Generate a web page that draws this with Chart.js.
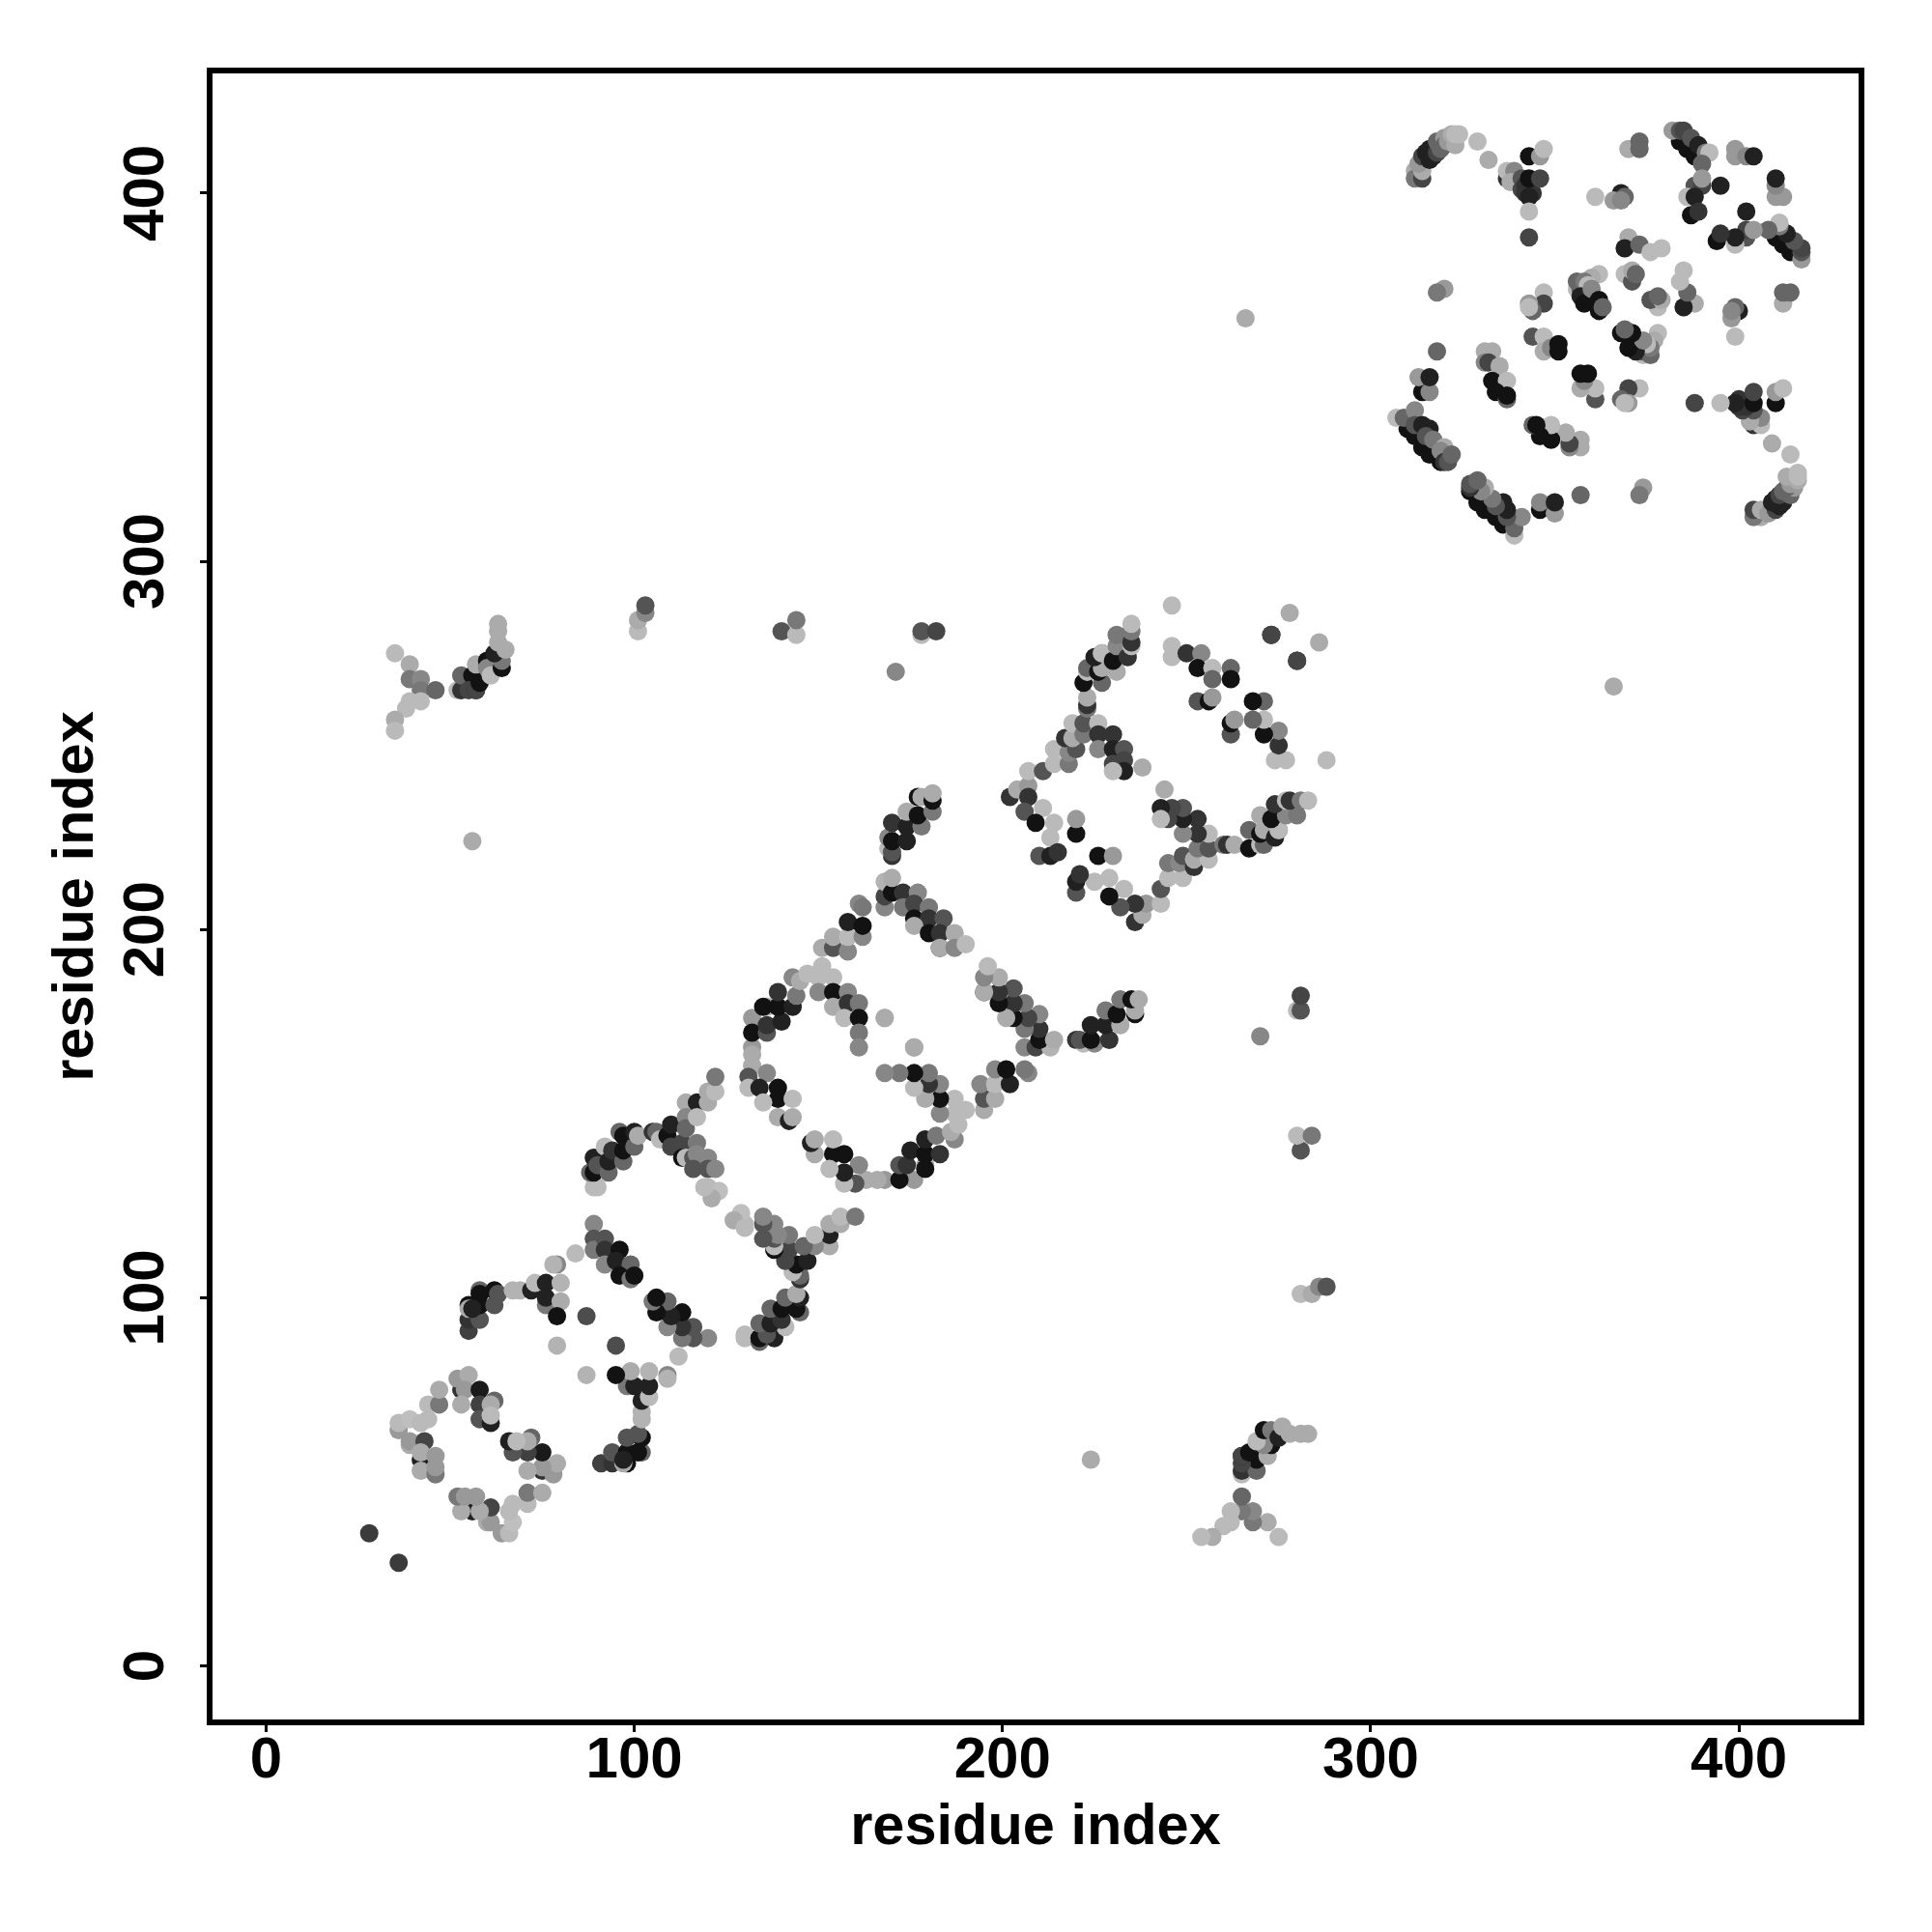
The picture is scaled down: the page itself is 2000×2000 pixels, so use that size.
<!DOCTYPE html>
<html>
<head>
<meta charset="utf-8">
<title>residue contact map</title>
<script src="https://cdn.jsdelivr.net/npm/chart.js@4"></script>
<style>
  html, body { margin: 0; padding: 0; background: #fff; }
  #wrap { width: 2000px; height: 2000px; }
</style>
</head>
<body>
<div id="wrap"><canvas id="contactMap" width="2000" height="2000"></canvas></div>
<script>
// Contacts are [i, j, grey %] with i < j; the map is symmetric so (j, i) is plotted too.
const tickValues = [0, 100, 200, 300, 400];
const axisTitle = 'residue index';

const ringLow = [
  [28,36,23],[36,64,60],[36,66,73],[39,67,75],[39,60,67],[39,61,60],[42,66,73],[44,67,73],[44,71,73],[47,71,47],[47,75,67],
  [43,61,27],[42,56,13],[42,58,67],[42,53,67],[46,52,47],[46,57,60],[46,54,60],
  [53,75,20],[52,78,60],[55,79,67],[54,75,60],[53,71,67],[58,75,10],[58,71,25],[58,67,33],[62,72,40],[61,71,67],[61,66,13],[61,68,73]
];
const armA = [
  [55,91,25],[55,94,20],[55,98,7],[55,97,67],[58,94,33],[58,98,7],[58,102,40],[58,101,7],[56,97,13],[62,98,33],[62,102,7],[63,101,33],
  [67,102,70],[69,102,70],[72,102,13],[73,104,73],[76,98,47],[76,104,13],[76,100,13],[80,104,70],[80,99,67],[79,95,7],[79,109,53],[78,109,70],[84,112,73],
  [87,95,30],[79,87,70]
];
const armB = [
  [89,120,53],[89,116,33],[89,113,47],[92,116,33],[92,113,20],[92,109,53],[96,113,7],[95,110,13],[99,109,40],[96,106,7],[99,105,47],[100,106,7]
];
const armC = [
  [89,130,73],[90,130,73],[88,134,40],[89,134,7],[89,138,13],[90,136,33],[92,141,73],[93,134,40],[93,137,13],[94,140,20],[97,137,40],
  [96,145,40],[97,144,7],[97,140,7],[100,141,40],[100,145,13],[101,144,67],[105,145,20],[106,145,40],[107,143,73],
  [109,144,7],[110,147,13],[110,141,27],[113,142,27],[117,142,47],[113,138,7],[114,138,73],[116,138,33],[117,139,53],[120,138,53],[116,135,33],[120,135,33],[122,135,53],
  [114,153,67],[117,153,13],[120,153,67],[114,149,53],[114,146,40],[117,149,73],[120,156,67],[122,156,73],[122,160,47],[120,130,73],[123,129,75],[121,127,67],[119,130,73]
];
const ringMidLower = [
  [132,168,60],[132,166,67],[132,163,67],[131,160,33],[131,157,73],[136,161,53],[134,157,13],[139,157,7],[139,154,7],[135,153,73],[143,154,73],
  [139,149,67],[142,148,13],[143,149,67]
];
const ringMidUpper = [
  [132,176,60],[132,172,7],[136,172,33],[136,174,20],[136,179,67],[135,179,7],[140,175,13],[139,179,7],[139,183,20],[143,179,13],[144,182,47],[143,187,53],
  [145,186,67],[147,188,73],[150,187,73],[151,190,73],[154,187,73],[150,183,53],[154,183,7],[154,179,67],[158,183,53],[158,180,20],[161,180,47],[157,176,73],
  [161,176,7],[161,172,47],[161,168,53],[168,176,67],[176,168,67]
];
const armD = [
  [151,195,67],[154,195,33],[154,198,67],[158,194,53],[158,198,73],[158,202,13],[162,198,53],[162,201,7],[161,207,53],[162,206,47]
];
const armE = [
  [168,206,53],[168,209,27],[168,213,70],[170,210,7],[170,214,67],[173,210,20],[173,206,47],[177,210,53],[176,207,27],[176,203,7],[180,206,47],[180,203,20],
  [176,201,67],[180,199,7],[184,203,33],[183,199,20],[183,195,20],[183,195,67],[187,199,67],[187,195,53],[190,196,73]
];
const armF = [
  [170,220,20],[169,222,73],[170,221,33],[169,225,53],[170,224,7],[170,229,20],[174,224,13],[174,228,13],[174,232,67],[178,228,47],[177,231,7],[177,236,7],
  [178,236,67],[181,232,47],[181,235,7],[181,237,67]
];
const armG = [
  [202,236,20],[204,238,67],[207,239,60],[207,236,20],[206,232,33],[211,233,73],[209,229,7],[214,229,73],[213,225,73],[220,226,7],[220,230,60],[210,220,33],[213,220,13],[215,221,20],
  [207,243,73],[211,243,33],[214,245,73],[214,249,73],[218,245,47],[218,248,53],[220,249,33],[217,252,20],[219,252,67],[219,256,73],[222,253,47],[222,256,33],[226,256,73],
  [226,253,20],[230,253,20],[226,249,53],[230,249,13],[233,249,33],[230,245,27],[233,246,27],[233,243,13],[230,243,73],[238,244,67]
];
const armH = [
  [223,260,47],[223,261,20],[223,263,67],[222,267,7],[227,267,40],[223,270,73],[223,271,40],[226,270,7],[227,271,67],[225,274,13],[227,275,47],[227,275,73],
  [231,270,67],[230,273,7],[231,277,53],[231,280,47],[234,274,20],[235,277,73],[235,278,20],[235,281,47],[235,283,73]
];
const patchSplit = [
  [246,288,73],[246,277,73],[246,274,73],[250,275,20],[254,275,53],[253,271,7],[257,271,73],[257,268,40],[262,271,40],[262,268,7],[253,262,33],[256,262,7],[257,263,60],
  [273,280,10],[273,280,27],[278,286,67]
];
const farLeft = [
  [35,275,73],[39,272,67],[39,268,47],[42,268,53],[42,265,47],[46,265,40],[42,262,73],[39,262,73],[38,260,73],[35,257,67],[35,254,73]
];
const farCluster = [
  [52,265,73],[53,265,20],[53,269,40],[56,269,7],[55,265,27],[57,265,13],[57,265,27],[57,272,67],[60,273,7],[58,267,7],[60,271,53],[61,269,73],
  [64,271,7],[64,273,47],[62,275,13],[65,276,67],[63,278,67],[63,281,67],[63,283,67]
];
const farContacts = [
  [56,224,67],[101,281,73],[101,284,67],[103,286,53],[103,288,33],[140,281,33],[144,280,73],[144,284,47],[171,270,53],[178,280,73],[178,281,33],[182,281,27],
  [266,366,67]
];
const clusterArc = [
  [312,406,67],[312,404,47],[314,404,27],[314,406,67],[313,408,60],[314,410,27],[315,411,13],[316,412,13],[316,409,13],[317,410,13],[318,411,27],[318,414,40],[319,412,40],
  [320,415,60],[320,413,40],[321,414,60],[322,416,67],[323,413,67],[323,416,73],[324,416,73],[329,414,73],[332,409,67]
];
const clusterTop = [
  [337,404,20],[337,406,73],[339,406,53],[338,403,67],[341,404,33],[341,401,27],[342,402,20],[342,400,20],[344,400,20],[343,399,13],[343,404,7],[346,404,27],
  [343,410,7],[346,410,60],[347,412,73],[343,395,73],[343,388,27],
  [370,412,67],[373,414,40],[373,412,40],[361,399,73],[368,400,13],[366,398,60],[369,399,40],[368,398,53],
  [384,414,7],[386,412,7],[388,410,7],[382,417,60],[384,417,33],[385,417,27],[387,415,33],[389,413,13],[391,411,47],[392,411,73],[390,408,40],
  [399,412,60],[399,410,60],[402,410,53],[404,410,13],[388,402,33],[390,402,27],[390,404,60],[395,402,13],[386,399,73],[388,399,13],[387,394,7],[389,395,20]
];
const clusterMid = [
  [370,388,67],[369,385,73],[369,385,13],[373,386,40],[376,384,73],[379,385,73],[369,378,73],[371,376,33],[371,379,67],[372,378,40],[362,378,73],[360,377,67],
  [356,374,73],[357,374,33],[356,376,40],[358,376,47],[359,375,73],[357,372,13],[358,370,7],[360,374,53],[362,371,7],[362,368,7],[363,369,40],
  [347,373,73],[347,370,27],[343,370,60],[344,368,40],[343,369,73],[344,361,33],[347,361,73],[347,357,67],[349,358,53],[351,359,7],[351,357,7]
];
const clusterLeft = [
  [320,374,60],[318,373,47],[318,357,40],[314,346,7],[316,346,53],[313,350,60],[316,350,13],
  [310,336,7],[312,334,7],[314,331,7],[316,329,7],[319,327,7],[307,339,73],[309,339,40],[312,341,53],[312,337,33],[314,337,13],[316,336,13],[315,334,33],[317,333,47],
  [320,331,67],[319,330,53],[320,327,20],[321,327,33],[322,329,40],
  [331,357,67],[333,357,67],[331,354,53],[332,354,27],[335,353,67],[333,349,7],[337,349,73],[334,346,7],[337,344,40],[337,345,7]
];

const contactGroups = [ringLow, armA, armB, armC, ringMidLower, ringMidUpper, armD, armE, armF, armG, armH,
  patchSplit, farLeft, farCluster, farContacts, clusterArc, clusterTop, clusterMid, clusterLeft];

const points = [];
const shades = [];
contactGroups.flat().forEach(c => {
  const g = Math.round(c[2] * 2.55);
  const colour = `rgb(${g},${g},${g})`;
  points.push({ x: c[0], y: c[1] });
  shades.push(colour);
  points.push({ x: c[1], y: c[0] });
  shades.push(colour);
});

// Heavy frame around the plot, like box() in base R
const framePlugin = {
  id: 'frame',
  afterDatasetsDraw(chart) {
    const a = chart.chartArea;
    const c = chart.ctx;
    c.save();
    c.strokeStyle = '#000';
    c.lineWidth = 6;
    c.strokeRect(a.left, a.top, a.right - a.left, a.bottom - a.top);
    c.restore();
  }
};

const tickFont = { family: '"Liberation Sans"', weight: 'bold', size: 60 };
const titleFont = { family: '"Liberation Sans"', weight: 'bold', size: 59.5 };
const tickOpts = {
  stepSize: 100,
  includeBounds: false,
  color: '#000',
  font: tickFont,
  maxRotation: 0,
  autoSkip: false,
  callback: v => tickValues.includes(v) ? String(v) : ''
};
const gridOpts = { drawOnChartArea: false, drawTicks: true, tickLength: 10, tickWidth: 3, tickColor: '#000' };

new Chart(document.getElementById('contactMap').getContext('2d'), {
  type: 'scatter',
  data: {
    datasets: [{
      data: points,
      pointRadius: 9.5,
      pointBorderWidth: 0,
      pointBackgroundColor: shades,
      pointHoverRadius: 9.5
    }]
  },
  options: {
    responsive: false,
    animation: false,
    events: [],
    layout: { padding: { left: 0, top: 73, right: 73, bottom: 0 } },
    plugins: { legend: { display: false }, tooltip: { enabled: false } },
    scales: {
      x: {
        type: 'linear',
        min: -15.35,
        max: 433.3,
        border: { display: false },
        grid: gridOpts,
        ticks: { ...tickOpts, padding: -6 },
        title: { display: true, text: axisTitle, color: '#000', font: titleFont, padding: { top: 0, bottom: 72 } },
        afterFit(scale) { scale.height = 217; }
      },
      y: {
        type: 'linear',
        min: -15.35,
        max: 433.3,
        border: { display: false },
        grid: gridOpts,
        ticks: { ...tickOpts, minRotation: 90, maxRotation: 90, crossAlign: 'center', padding: 4 },
        title: { display: true, text: axisTitle, color: '#000', font: titleFont, padding: { top: 44, bottom: 0 } },
        afterFit(scale) { scale.width = 217; }
      }
    }
  },
  plugins: [framePlugin]
});
</script>
</body>
</html>
